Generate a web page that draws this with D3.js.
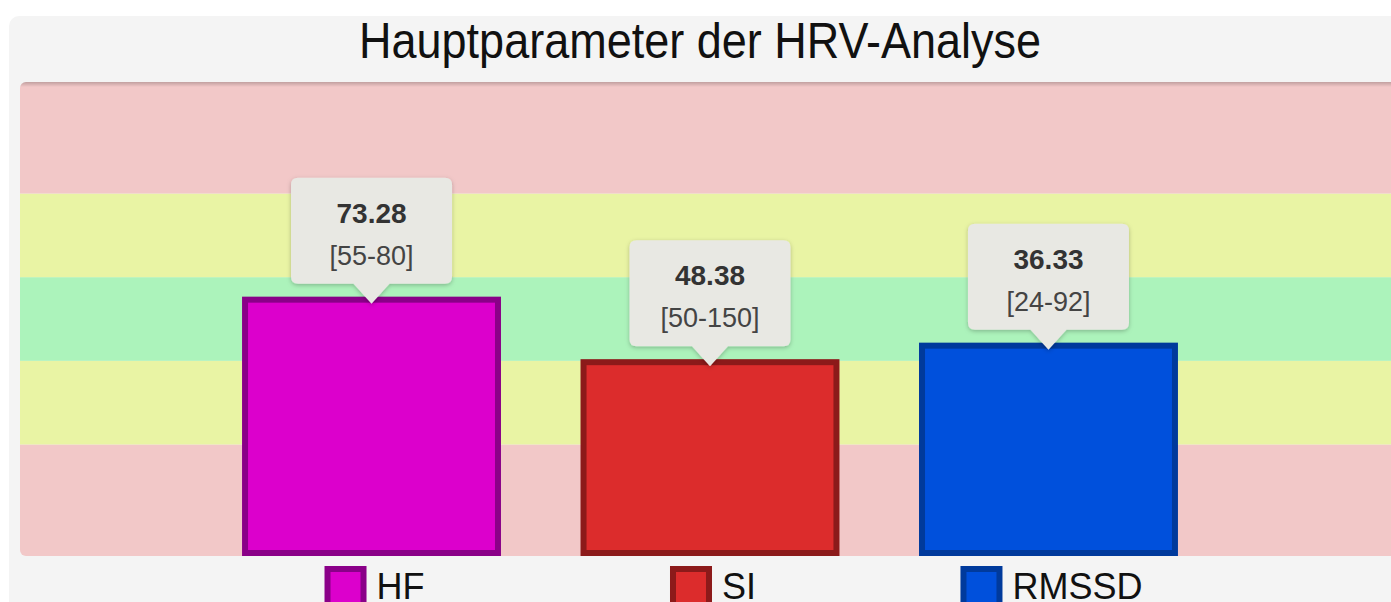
<!DOCTYPE html>
<html>
<head>
<meta charset="utf-8">
<script src="https://cdn.jsdelivr.net/npm/d3@7"></script>
<style>
  body { margin: 0; background: #fff; overflow: hidden; }
  svg { display: block; font-family: "Liberation Sans", Arial, Helvetica, sans-serif; }
</style>
</head>
<body>
<svg id="chart"></svg>
<script>
const title = "Hauptparameter der HRV-Analyse";
const categories = ["HF", "SI", "RMSSD"];
const values = [73.28, 48.38, 36.33];
const rangeLow = [55, 50, 24];
const rangeHigh = [80, 150, 92];
// zone limits in normalised units (0 = lower bound of norm, 1 = upper bound)
const zoneEdges = [-7 / 3, -1, 0, 1, 2, 10 / 3];
const zoneColors = ["#f2c8c8", "#e9f4a4", "#acf3bb", "#e9f4a4", "#f2c8c8"];
const barFill = ["#dc00cc", "#dc2c2c", "#0050dc"];
const barStroke = ["#8a0088", "#8c1a1a", "#003a9c"];

const W = 1391, H = 602;
const plot = { left: 20, right: 1400, top: 82, bottom: 556 };

const svg = d3.select("#chart").attr("width", W).attr("height", H);

const defs = svg.append("defs");
defs.append("clipPath").attr("id", "plotClip")
  .append("rect")
  .attr("x", plot.left).attr("y", plot.top)
  .attr("width", plot.right - plot.left).attr("height", plot.bottom - plot.top)
  .attr("rx", 6);

const topShade = defs.append("linearGradient").attr("id", "topShade")
  .attr("x1", 0).attr("y1", 0).attr("x2", 0).attr("y2", 1);
topShade.append("stop").attr("offset", "0%").attr("stop-color", "#000").attr("stop-opacity", 0.2);
topShade.append("stop").attr("offset", "100%").attr("stop-color", "#000").attr("stop-opacity", 0);

const shadow = defs.append("filter").attr("id", "tipShadow")
  .attr("x", "-20%").attr("y", "-20%").attr("width", "140%").attr("height", "150%");
shadow.append("feDropShadow").attr("dx", 0).attr("dy", 1.5).attr("stdDeviation", 2)
  .attr("flood-color", "#000").attr("flood-opacity", 0.25);

// outer panel
svg.append("rect")
  .attr("x", 9).attr("y", 16).attr("width", 1420).attr("height", 620)
  .attr("rx", 10).attr("fill", "#f4f4f4");

svg.append("text")
  .attr("transform", "translate(700,58) scale(1,1.1)")
  .attr("text-anchor", "middle")
  .attr("font-size", 45)
  .attr("fill", "#111")
  .text(title);

const x = d3.scaleBand()
  .domain(categories)
  .range([plot.left, plot.right])
  .paddingInner(0.235)
  .paddingOuter(0.656);

const y = d3.scaleLinear()
  .domain([zoneEdges[0], zoneEdges[zoneEdges.length - 1]])
  .range([plot.bottom, plot.top]);

const data = categories.map((c, i) => ({
  key: c,
  value: values[i],
  lo: rangeLow[i],
  hi: rangeHigh[i],
  norm: (values[i] - rangeLow[i]) / (rangeHigh[i] - rangeLow[i]),
  fill: barFill[i],
  stroke: barStroke[i]
}));

const plotG = svg.append("g").attr("clip-path", "url(#plotClip)");

plotG.selectAll("rect.zone")
  .data(zoneColors)
  .enter().append("rect")
  .attr("class", "zone")
  .attr("x", plot.left)
  .attr("width", plot.right - plot.left)
  .attr("y", (d, i) => y(zoneEdges[i + 1]))
  .attr("height", (d, i) => y(zoneEdges[i]) - y(zoneEdges[i + 1]))
  .attr("fill", d => d);

plotG.append("rect")
  .attr("x", plot.left).attr("y", plot.top)
  .attr("width", plot.right - plot.left).attr("height", 5)
  .attr("fill", "url(#topShade)");

const sw = 6;
plotG.selectAll("rect.bar")
  .data(data)
  .enter().append("rect")
  .attr("class", "bar")
  .attr("x", d => x(d.key) + sw / 2)
  .attr("width", x.bandwidth() - sw)
  .attr("y", d => y(d.norm))
  .attr("height", d => y(zoneEdges[0]) - y(d.norm) - sw / 2)
  .attr("fill", d => d.fill)
  .attr("stroke", d => d.stroke)
  .attr("stroke-width", sw);

// tooltips
const tipW = 161, tipH = 106, arrowW = 18, arrowH = 20, gap = 16;
const tips = svg.selectAll("g.tip")
  .data(data)
  .enter().append("g")
  .attr("class", "tip")
  .attr("transform", d => `translate(${x(d.key) + x.bandwidth() / 2},${y(d.norm) - gap - tipH})`);

tips.append("path")
  .attr("d", () => {
    const r = 7, w2 = tipW / 2;
    return `M${-w2 + r},0 H${w2 - r} Q${w2},0 ${w2},${r} V${tipH - r} Q${w2},${tipH} ${w2 - r},${tipH}` +
      ` H${arrowW} L0,${tipH + arrowH} L${-arrowW},${tipH} H${-w2 + r} Q${-w2},${tipH} ${-w2},${tipH - r}` +
      ` V${r} Q${-w2},0 ${-w2 + r},0 Z`;
  })
  .attr("fill", "#e8e8e3")
  .attr("filter", "url(#tipShadow)");

tips.append("text")
  .attr("y", 45)
  .attr("text-anchor", "middle")
  .attr("font-size", 28)
  .attr("font-weight", "bold")
  .attr("fill", "#333")
  .text(d => d.value.toFixed(2));

tips.append("text")
  .attr("y", 87)
  .attr("text-anchor", "middle")
  .attr("font-size", 27)
  .attr("fill", "#444")
  .text(d => `[${d.lo}-${d.hi}]`);

// legend, each item centred below its bar
const sq = 42, lgGap = 10;
const legend = svg.selectAll("g.legend")
  .data(data)
  .enter().append("g")
  .attr("class", "legend");

legend.append("rect")
  .attr("x", sw / 2).attr("y", 566 + sw / 2)
  .attr("width", sq - sw).attr("height", sq - sw)
  .attr("fill", d => d.fill)
  .attr("stroke", d => d.stroke)
  .attr("stroke-width", sw);

legend.append("text")
  .attr("x", sq + lgGap)
  .attr("y", 599)
  .attr("font-size", 36)
  .attr("fill", "#111")
  .text(d => d.key);

legend.attr("transform", function (d) {
  const tw = d3.select(this).select("text").node().getComputedTextLength();
  const total = sq + lgGap + tw;
  return `translate(${x(d.key) + x.bandwidth() / 2 - total / 2 + 3},0)`;
});
</script>
</body>
</html>
